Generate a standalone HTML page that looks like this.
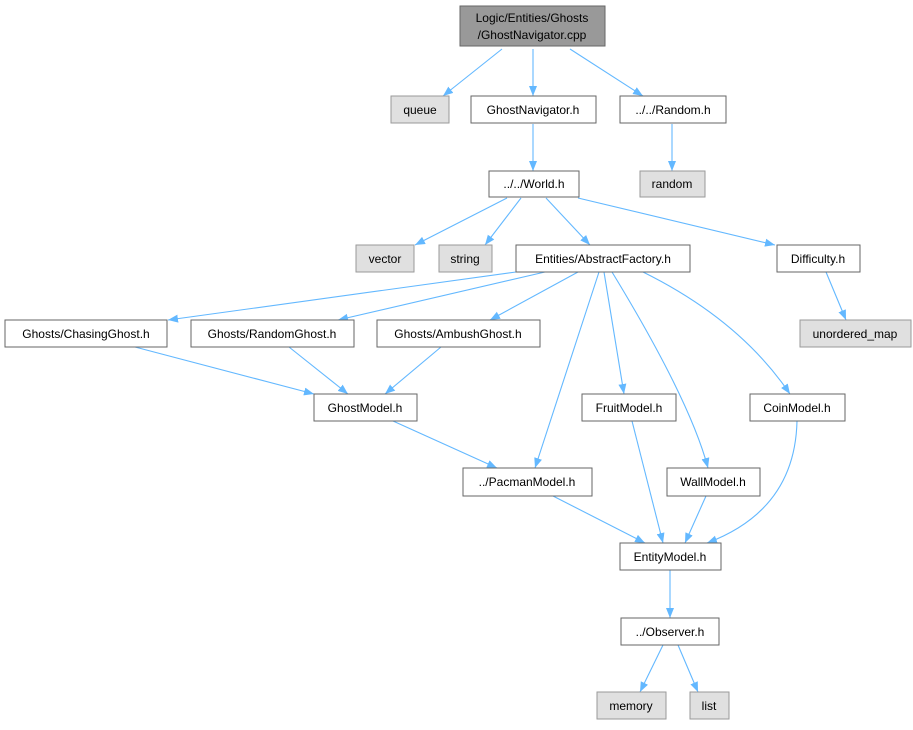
<!DOCTYPE html>
<html><head><meta charset="utf-8"><style>
body{margin:0;background:#fff;}
svg text{font-family:"Liberation Sans",Arial,sans-serif;font-size:12px;text-anchor:middle;fill:#000;}
</style></head><body>
<svg width="913" height="725" viewBox="0 0 913 725" xmlns="http://www.w3.org/2000/svg">
<defs>
<marker id="a" viewBox="0 0 10 10" refX="10" refY="5" markerWidth="10" markerHeight="10" markerUnits="userSpaceOnUse" orient="auto">
<path d="M0,1 L10,5 L0,9 Z" fill="#63b8ff"/>
</marker>
</defs>
<g fill="none" stroke="#63b8ff" stroke-width="1.1" marker-end="url(#a)">
<path d="M502,49 L443,96"/>
<path d="M533,49 L533,96"/>
<path d="M570,49 L643,96"/>
<path d="M672,124 L672,171"/>
<path d="M533,124 L533,171"/>
<path d="M507,198 L415,245"/>
<path d="M521,198 L485,245"/>
<path d="M546,198 L590,245"/>
<path d="M578,198 L775,245"/>
<path d="M826,272 L846,320"/>
<path d="M516,272 L168,320"/>
<path d="M545,272 L338,320"/>
<path d="M578,272 L490,320"/>
<path d="M599,272 L535,468"/>
<path d="M604,272 L624,394"/>
<path d="M612,272 Q690,400 708,468"/>
<path d="M643,272 Q740,320 790,394"/>
<path d="M135,347 L314,394"/>
<path d="M289,347 L348,394"/>
<path d="M441,347 L385,394"/>
<path d="M393,421 L497,468"/>
<path d="M632,421 L663,543"/>
<path d="M706,496 L685,543"/>
<path d="M797,421 Q795,510 707,543"/>
<path d="M553,496 L645,543"/>
<path d="M670,570 L670,618"/>
<path d="M663,645 L640,692"/>
<path d="M678,645 L698,692"/>
</g>
<g stroke-width="1">
<rect x="460" y="6" width="145" height="40" fill="#999" stroke="#666"/>
<rect x="391" y="96" width="58" height="27" fill="#e0e0e0" stroke="#999"/>
<rect x="471" y="96" width="125" height="27" fill="#fff" stroke="#666"/>
<rect x="620" y="96" width="106" height="27" fill="#fff" stroke="#666"/>
<rect x="489" y="171" width="90" height="26" fill="#fff" stroke="#666"/>
<rect x="640" y="171" width="65" height="26" fill="#e0e0e0" stroke="#999"/>
<rect x="356" y="245" width="58" height="27" fill="#e0e0e0" stroke="#999"/>
<rect x="439" y="245" width="53" height="27" fill="#e0e0e0" stroke="#999"/>
<rect x="516" y="245" width="174" height="27" fill="#fff" stroke="#666"/>
<rect x="777" y="245" width="83" height="27" fill="#fff" stroke="#666"/>
<rect x="5" y="320" width="162" height="27" fill="#fff" stroke="#666"/>
<rect x="191" y="320" width="163" height="27" fill="#fff" stroke="#666"/>
<rect x="377" y="320" width="163" height="27" fill="#fff" stroke="#666"/>
<rect x="800" y="320" width="111" height="27" fill="#e0e0e0" stroke="#999"/>
<rect x="314" y="394" width="103" height="27" fill="#fff" stroke="#666"/>
<rect x="582" y="394" width="94" height="27" fill="#fff" stroke="#666"/>
<rect x="750" y="394" width="95" height="27" fill="#fff" stroke="#666"/>
<rect x="463" y="468" width="129" height="28" fill="#fff" stroke="#666"/>
<rect x="667" y="468" width="93" height="28" fill="#fff" stroke="#666"/>
<rect x="620" y="543" width="101" height="27" fill="#fff" stroke="#666"/>
<rect x="621" y="618" width="98" height="27" fill="#fff" stroke="#666"/>
<rect x="597" y="692" width="69" height="27" fill="#e0e0e0" stroke="#999"/>
<rect x="690" y="692" width="39" height="27" fill="#e0e0e0" stroke="#999"/>
</g>
<text x="532" y="22">Logic/Entities/Ghosts</text>
<text x="532" y="39">/GhostNavigator.cpp</text>
<text x="420" y="114">queue</text>
<text x="533" y="114">GhostNavigator.h</text>
<text x="673" y="114">../../Random.h</text>
<text x="534" y="188">../../World.h</text>
<text x="672" y="188">random</text>
<text x="385" y="263">vector</text>
<text x="465" y="263">string</text>
<text x="603" y="263">Entities/AbstractFactory.h</text>
<text x="818" y="263">Difficulty.h</text>
<text x="86" y="338">Ghosts/ChasingGhost.h</text>
<text x="272" y="338">Ghosts/RandomGhost.h</text>
<text x="458" y="338">Ghosts/AmbushGhost.h</text>
<text x="855" y="338">unordered_map</text>
<text x="365" y="412">GhostModel.h</text>
<text x="629" y="412">FruitModel.h</text>
<text x="797" y="412">CoinModel.h</text>
<text x="527" y="486">../PacmanModel.h</text>
<text x="713" y="486">WallModel.h</text>
<text x="670" y="561">EntityModel.h</text>
<text x="670" y="636">../Observer.h</text>
<text x="631" y="710">memory</text>
<text x="709" y="710">list</text>
</svg>
</body></html>
